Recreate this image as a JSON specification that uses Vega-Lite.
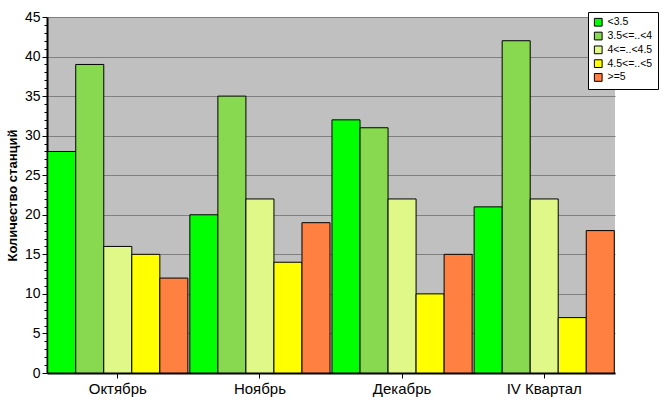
{
  "$schema": "https://vega.github.io/schema/vega-lite/v6.json",
  "autosize": "none",
  "width": 568,
  "height": 356,
  "padding": {"left": 47, "top": 17, "right": 52, "bottom": 42},
  "background": "white",
  "config": {
    "view": {"fill": "#C0C0C0", "stroke": null},
    "font": "Liberation Sans"
  },
  "data": {
    "values": [
      {"month": "Октябрь", "cat": "<3.5", "n": 28},
      {"month": "Октябрь", "cat": "3.5<=..<4", "n": 39},
      {"month": "Октябрь", "cat": "4<=..<4.5", "n": 16},
      {"month": "Октябрь", "cat": "4.5<=..<5", "n": 15},
      {"month": "Октябрь", "cat": ">=5", "n": 12},
      {"month": "Ноябрь", "cat": "<3.5", "n": 20},
      {"month": "Ноябрь", "cat": "3.5<=..<4", "n": 35},
      {"month": "Ноябрь", "cat": "4<=..<4.5", "n": 22},
      {"month": "Ноябрь", "cat": "4.5<=..<5", "n": 14},
      {"month": "Ноябрь", "cat": ">=5", "n": 19},
      {"month": "Декабрь", "cat": "<3.5", "n": 32},
      {"month": "Декабрь", "cat": "3.5<=..<4", "n": 31},
      {"month": "Декабрь", "cat": "4<=..<4.5", "n": 22},
      {"month": "Декабрь", "cat": "4.5<=..<5", "n": 10},
      {"month": "Декабрь", "cat": ">=5", "n": 15},
      {"month": "IV Квартал", "cat": "<3.5", "n": 21},
      {"month": "IV Квартал", "cat": "3.5<=..<4", "n": 42},
      {"month": "IV Квартал", "cat": "4<=..<4.5", "n": 22},
      {"month": "IV Квартал", "cat": "4.5<=..<5", "n": 7},
      {"month": "IV Квартал", "cat": ">=5", "n": 18}
    ]
  },
  "encoding": {
    "x": {
      "field": "month",
      "type": "nominal",
      "sort": ["Октябрь", "Ноябрь", "Декабрь", "IV Квартал"],
      "scale": {"paddingInner": 0.014, "paddingOuter": 0.005},
      "axis": {
        "title": null,
        "labelAngle": 0,
        "labelFontSize": 15,
        "labelColor": "black",
        "labelPadding": 3,
        "domainColor": "black",
        "domainWidth": 2,
        "tickColor": "black",
        "tickSize": 5,
        "grid": false
      }
    },
    "xOffset": {
      "field": "cat",
      "type": "nominal",
      "sort": ["<3.5", "3.5<=..<4", "4<=..<4.5", "4.5<=..<5", ">=5"],
      "scale": {"paddingInner": 0, "paddingOuter": 0}
    }
  },
  "layer": [
    {
      "mark": {"type": "bar", "opacity": 0},
      "encoding": {
        "y": {
          "field": "n",
          "type": "quantitative",
          "scale": {"domain": [0, 45], "nice": false},
          "axis": {
            "orient": "left",
            "title": null,
            "values": [1, 2, 3, 4, 6, 7, 8, 9, 11, 12, 13, 14, 16, 17, 18, 19, 21, 22, 23, 24, 26, 27, 28, 29, 31, 32, 33, 34, 36, 37, 38, 39, 41, 42, 43, 44],
            "labels": false,
            "domain": false,
            "grid": false,
            "tickColor": "black",
            "tickSize": 3,
            "tickWidth": 1
          }
        }
      }
    },
    {
      "mark": {"type": "bar", "stroke": "black", "strokeWidth": 1},
      "encoding": {
        "y": {
          "field": "n",
          "type": "quantitative",
          "scale": {"domain": [0, 45], "nice": false},
          "axis": {
            "orient": "left",
            "title": "Количество станций",
            "titleFontSize": 13,
            "titleFontWeight": "bold",
            "titleColor": "black",
            "titlePadding": 5,
            "values": [0, 5, 10, 15, 20, 25, 30, 35, 40, 45],
            "labelFontSize": 14,
            "labelColor": "black",
            "labelPadding": 2,
            "domainColor": "black",
            "domainWidth": 2,
            "tickColor": "black",
            "tickSize": 5,
            "grid": true,
            "gridColor": "#808080",
            "gridWidth": 1.2
          }
        },
        "color": {
          "field": "cat",
          "type": "nominal",
          "sort": ["<3.5", "3.5<=..<4", "4<=..<4.5", "4.5<=..<5", ">=5"],
          "scale": {
            "domain": ["<3.5", "3.5<=..<4", "4<=..<4.5", "4.5<=..<5", ">=5"],
            "range": ["#00FF00", "#88D850", "#E0F888", "#FFFF00", "#FF8040"]
          },
          "legend": {
            "title": null,
            "orient": "none",
            "legendX": 541,
            "legendY": -5,
            "fillColor": "white",
            "strokeColor": "black",
            "padding": 5,
            "symbolType": "square",
            "symbolSize": 60,
            "symbolStrokeColor": "black",
            "symbolStrokeWidth": 1,
            "labelFontSize": 10.5,
            "labelColor": "black",
            "rowPadding": 0.8
          }
        }
      }
    }
  ],
  "resolve": {"axis": {"y": "independent"}}
}
